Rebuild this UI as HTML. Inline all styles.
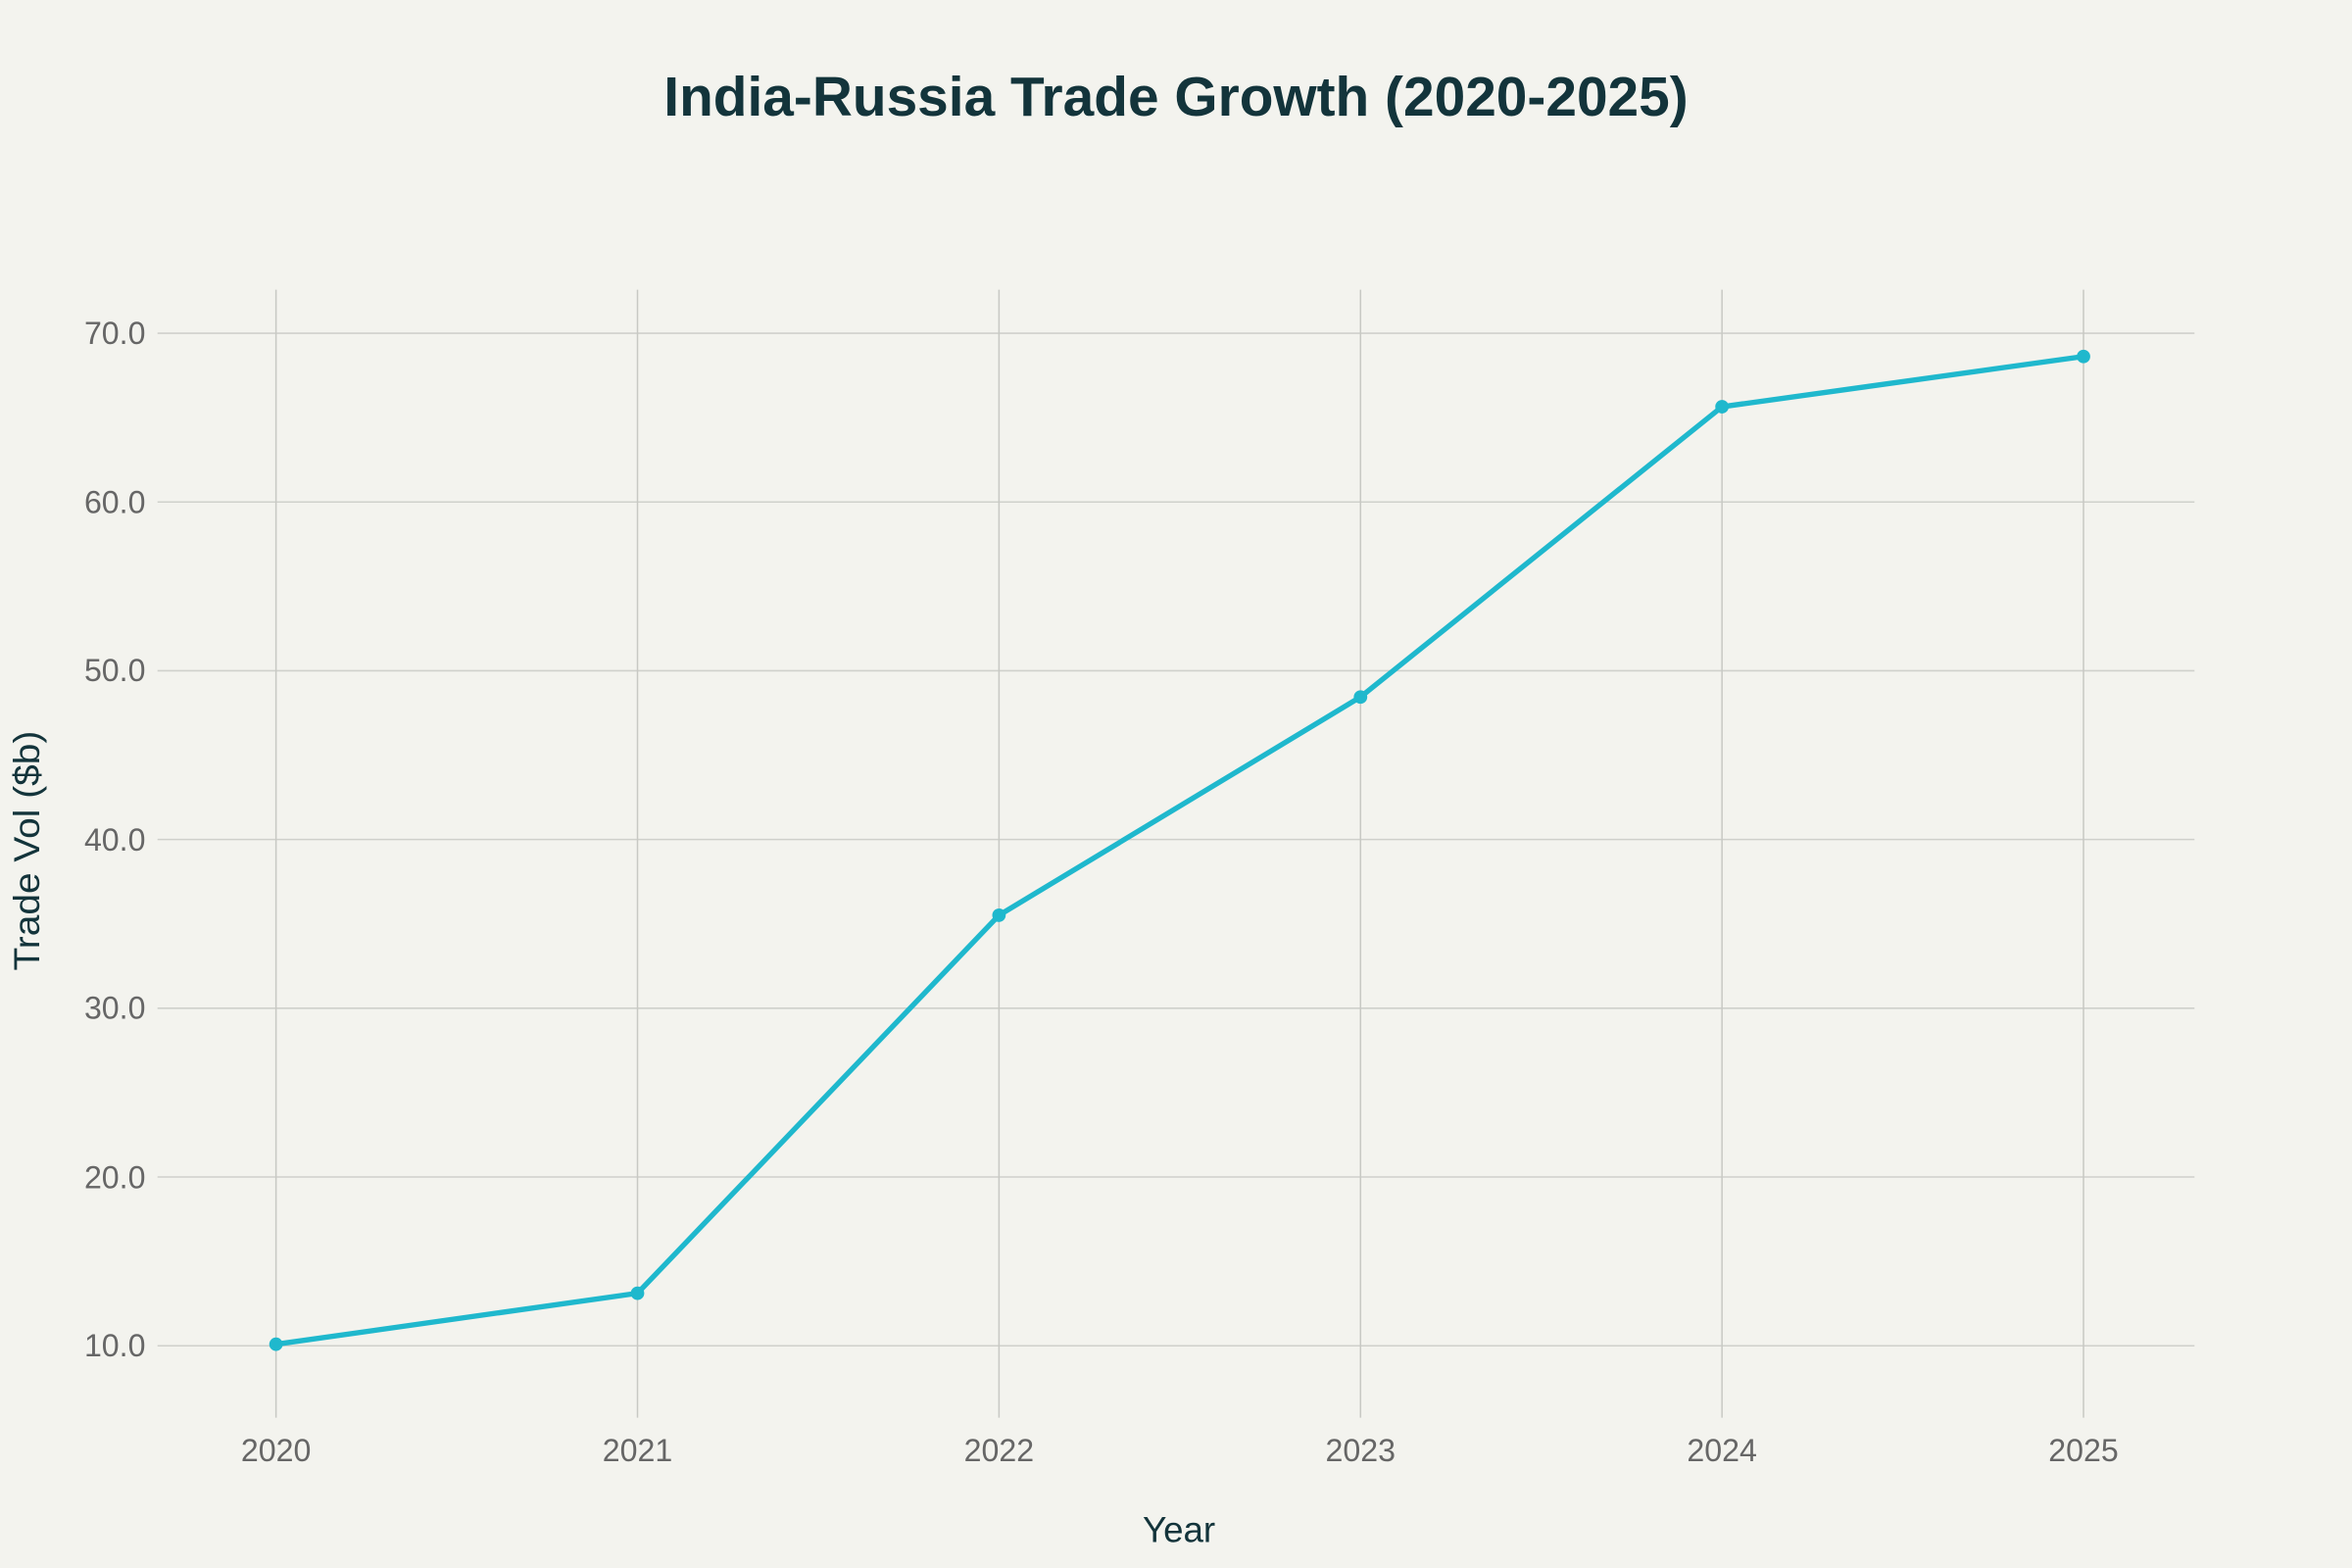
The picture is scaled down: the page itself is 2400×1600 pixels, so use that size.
<!DOCTYPE html>
<html><head><meta charset="utf-8"><style>
html,body{margin:0;padding:0;background:#f3f3ee;}
svg{display:block;}
</style></head><body>
<svg width="2400" height="1600" viewBox="0 0 1568 1045" xmlns="http://www.w3.org/2000/svg" font-family="'Liberation Sans', sans-serif">
<rect width="1568" height="1045" fill="#f3f3ee"/>
<text x="784" y="77" text-anchor="middle" font-size="37" font-weight="bold" fill="#13343b" textLength="683" lengthAdjust="spacingAndGlyphs">India-Russia Trade Growth (2020-2025)</text>
<g stroke="#cfd0cb" stroke-width="1">
<line x1="105" x2="1463" y1="222" y2="222"/>
<line x1="105" x2="1463" y1="334.5" y2="334.5"/>
<line x1="105" x2="1463" y1="447" y2="447"/>
<line x1="105" x2="1463" y1="559.5" y2="559.5"/>
<line x1="105" x2="1463" y1="672" y2="672"/>
<line x1="105" x2="1463" y1="784.5" y2="784.5"/>
<line x1="105" x2="1463" y1="897" y2="897"/>
</g>
<g stroke="#c8c9c4" stroke-width="1">
<line x1="184" x2="184" y1="193" y2="945"/>
<line x1="425" x2="425" y1="193" y2="945"/>
<line x1="666" x2="666" y1="193" y2="945"/>
<line x1="907" x2="907" y1="193" y2="945"/>
<line x1="1148" x2="1148" y1="193" y2="945"/>
<line x1="1389" x2="1389" y1="193" y2="945"/>
</g>
<g font-size="21" fill="#666" text-anchor="end">
<text x="97" y="229">70.0</text>
<text x="97" y="342">60.0</text>
<text x="97" y="454">50.0</text>
<text x="97" y="567">40.0</text>
<text x="97" y="679">30.0</text>
<text x="97" y="792">20.0</text>
<text x="97" y="904">10.0</text>
</g>
<g font-size="21" fill="#666" text-anchor="middle">
<text x="184" y="974">2020</text>
<text x="425" y="974">2021</text>
<text x="666" y="974">2022</text>
<text x="907" y="974">2023</text>
<text x="1148" y="974">2024</text>
<text x="1389" y="974">2025</text>
</g>
<text x="786" y="1028" text-anchor="middle" font-size="24" fill="#13343b">Year</text>
<text transform="translate(26,567) rotate(-90)" text-anchor="middle" font-size="24" fill="#13343b" textLength="160" lengthAdjust="spacingAndGlyphs">Trade Vol ($b)</text>
<polyline fill="none" stroke="#1fb8cd" stroke-width="3.5" stroke-linejoin="round" points="184,896 425,862 666,610 907,464.5 1148,271 1389,237.5"/>
<g fill="#1fb8cd">
<circle cx="184" cy="896" r="4.5"/><circle cx="425" cy="862" r="4.5"/><circle cx="666" cy="610" r="4.5"/>
<circle cx="907" cy="464.5" r="4.5"/><circle cx="1148" cy="271" r="4.5"/><circle cx="1389" cy="237.5" r="4.5"/>
</g>
</svg>
</body></html>
